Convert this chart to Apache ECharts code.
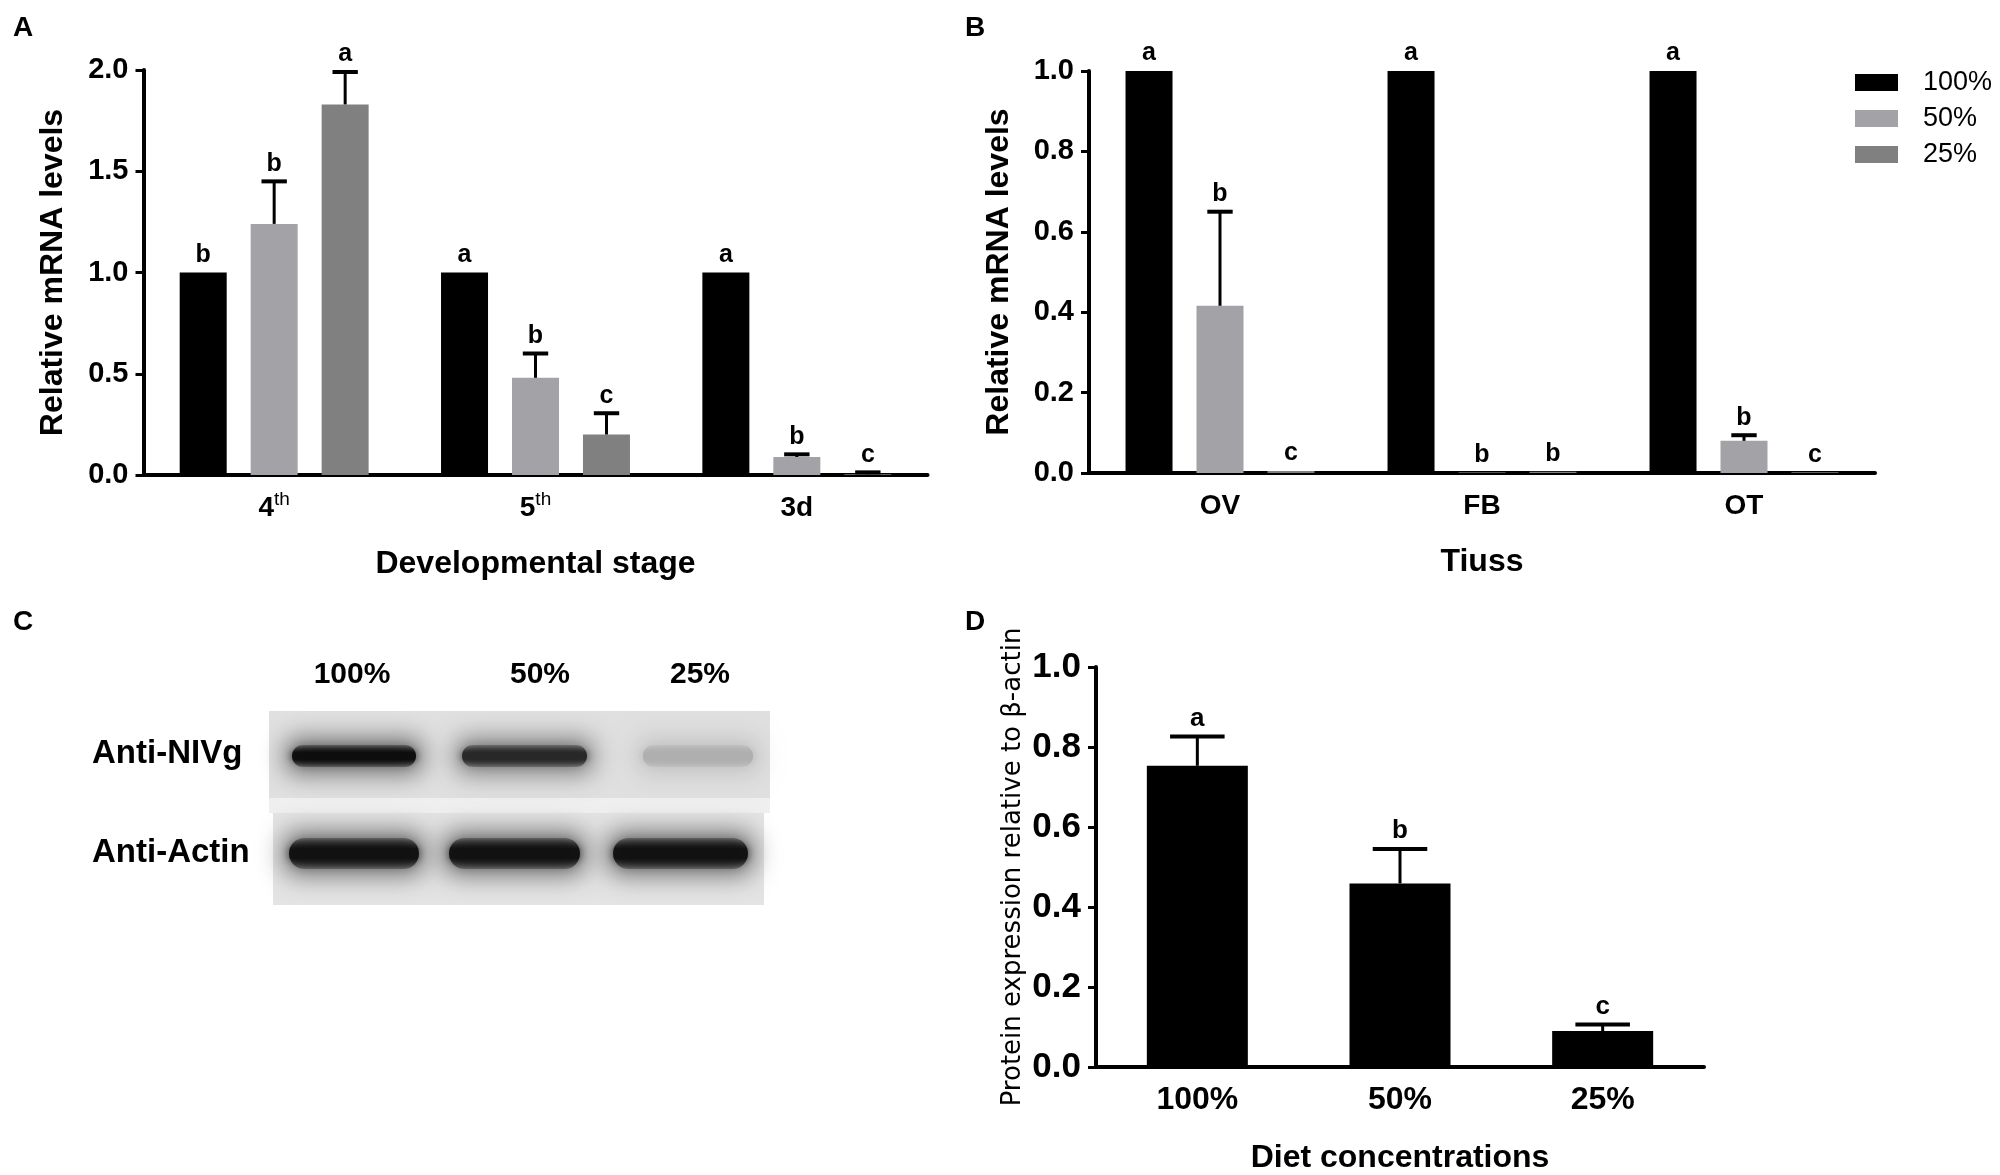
<!DOCTYPE html>
<html>
<head>
<meta charset="utf-8">
<script src="https://cdn.jsdelivr.net/npm/echarts@6/dist/echarts.min.js"></script>
<style>
  html, body { margin: 0; padding: 0; background: #fff; }
  #main { width: 2000px; height: 1175px; }
</style>
</head>
<body>
<div id="main"></div>
<script>
// ---- data ----
var groupNames = ['100%', '50%', '25%'];
var barColors = ['#000000', '#a3a3a7', '#808080'];

// A: developmental stage
var stageCats = ['4th', '5th', '3d'];
var stageFull = [1.0, 1.0, 1.0];
var stageHalf = [1.24, 0.48, 0.089];
var stageQuarter = [1.83, 0.20, 0.004];
var stageFullErr = [0, 0, 0];
var stageHalfErr = [0.21, 0.12, 0.013];
var stageQuarterErr = [0.16, 0.105, 0.009];
var stageFullSig = ['b', 'a', 'a'];
var stageHalfSig = ['b', 'b', 'b'];
var stageQuarterSig = ['a', 'c', 'c'];

// B: tissue
var tissueCats = ['OV', 'FB', 'OT'];
var tissueFull = [1.0, 1.0, 1.0];
var tissueHalf = [0.416, 0.001, 0.080];
var tissueQuarter = [0.005, 0.003, 0.002];
var tissueFullErr = [0, 0, 0];
var tissueHalfErr = [0.234, 0, 0.014];
var tissueQuarterErr = [0, 0, 0];
var tissueFullSig = ['a', 'a', 'a'];
var tissueHalfSig = ['b', 'b', 'b'];
var tissueQuarterSig = ['c', 'b', 'c'];

// D: protein expression
var dietCats = ['100%', '50%', '25%'];
var dietValues = [0.753, 0.459, 0.090];
var dietErr = [0.073, 0.086, 0.016];
var dietSig = ['a', 'b', 'c'];

// C: western blot band darkness (0..1) per lane
var blotLanes = ['100%', '50%', '25%'];
var nivgBand = [0.97, 0.85, 0.25];
var actinBand = [0.95, 0.95, 0.95];

var F = 'Liberation Sans, Arial, sans-serif';

var myChart = echarts.init(document.getElementById('main'));

function valueAxis(grid, max, interval, name, fs, nameFont, gap) {
    return {
        type: 'value', gridIndex: grid, min: 0, max: max, interval: interval,
        name: name, nameLocation: 'middle', nameGap: gap,
        nameTextStyle: nameFont,
        axisLine: { show: true, lineStyle: { color: '#000', width: 4 } },
        axisTick: { show: true, length: 8, lineStyle: { color: '#000', width: 3 } },
        axisLabel: { color: '#000', fontFamily: F, fontWeight: 'bold', fontSize: fs, margin: 15,
            formatter: function (v) { return v.toFixed(1); } },
        splitLine: { show: false }
    };
}

function catAxis(grid, cats, name, fs, nameGap) {
    return {
        type: 'category', gridIndex: grid, data: cats,
        name: name, nameLocation: 'middle', nameGap: nameGap,
        nameTextStyle: { color: '#000', fontFamily: F, fontWeight: 'bold', fontSize: 32 },
        axisLine: { lineStyle: { color: '#000', width: 4 } },
        axisTick: { alignWithLabel: true, length: 8, lineStyle: { color: '#000', width: 3 } },
        axisLabel: {
            margin: 15,
            formatter: function (v) {
                var m = v.match(/^(\d)(th)$/);
                return m ? '{n|' + m[1] + '}{s|' + m[2] + '}' : '{n|' + v + '}';
            },
            rich: {
                n: { fontFamily: F, fontWeight: 'bold', fontSize: fs, color: '#000', lineHeight: 36 },
                s: { fontFamily: F, fontSize: 19, color: '#000', verticalAlign: 'top', lineHeight: 20 }
            }
        }
    };
}

function barSeries(name, grid, values, color, barW, gap) {
    return {
        name: name, type: 'bar', xAxisIndex: grid, yAxisIndex: grid,
        data: values, barWidth: barW, barGap: gap,
        itemStyle: { color: color },
        emphasis: { disabled: true }
    };
}

// error bar (upper only) plus significance letter, centred on the k-th bar of n
function errSeries(grid, values, errs, sig, k, n, barW, gapPx, fs) {
    return {
        type: 'custom', xAxisIndex: grid, yAxisIndex: grid, z: 5,
        data: values.map(function (v, i) { return [i, v, errs[i]]; }),
        renderItem: function (params, api) {
            var v = api.value(1), e = api.value(2);
            var base = api.coord([api.value(0), v]);
            var top = api.coord([api.value(0), v + e]);
            var x = base[0] + (k - (n - 1) / 2) * (barW + gapPx);
            var kids = [];
            if (e > 0) {
                kids.push({ type: 'line', shape: { x1: x, y1: base[1], x2: x, y2: top[1] },
                    style: { stroke: '#000', lineWidth: 3 } });
                kids.push({ type: 'line', shape: { x1: x - barW * 0.27, y1: top[1], x2: x + barW * 0.27, y2: top[1] },
                    style: { stroke: '#000', lineWidth: 4 } });
            }
            kids.push({ type: 'text', x: x, y: top[1] - 5,
                style: { text: sig[params.dataIndex], align: 'center', verticalAlign: 'bottom',
                    fontFamily: F, fontWeight: 'bold', fontSize: fs, fill: '#000' } });
            return { type: 'group', children: kids };
        }
    };
}

var titleFont = { color: '#000', fontFamily: F, fontWeight: 'bold', fontSize: 32 };

// western blot drawn as a picture
var blot = [
    { type: 'rect', shape: { x: 269, y: 711, width: 501, height: 88 }, style: { fill: '#e0e0e0' } },
    { type: 'rect', shape: { x: 269, y: 798, width: 501, height: 15 }, style: { fill: '#efefef' } },
    { type: 'rect', shape: { x: 273, y: 813, width: 491, height: 92 }, style: { fill: '#e4e4e4' } }
];
var SHIFT = 3000;
function band(x, y, w, h, d) {
    var g = Math.round(230 - 225 * d);
    var c = 'rgba(' + g + ',' + g + ',' + g + ',';
    // soft halo: shape drawn off-canvas, only its blurred shadow lands on the blot
    blot.push({ type: 'rect', shape: { x: x - 4 - SHIFT, y: y - 6, width: w + 8, height: h + 12, r: h / 2 },
        style: { fill: '#000', shadowBlur: 24, shadowOffsetX: SHIFT, shadowColor: 'rgba(0,0,0,' + (0.5 * d) + ')' } });
    blot.push({ type: 'rect', shape: { x: x + 3, y: y + 1, width: w - 6, height: h - 2, r: (h - 2) / 2 },
        style: {
            fill: new echarts.graphic.LinearGradient(0, 0, 0, 1, [
                { offset: 0, color: c + '0.3)' },
                { offset: 0.35, color: c + '0.97)' },
                { offset: 0.65, color: c + '0.97)' },
                { offset: 1, color: c + '0.3)' }
            ]),
            shadowBlur: 8, shadowColor: c + '0.7)'
        } });
}
var nivgX = [[289, 130], [459, 131], [640, 116]];
var actinX = [[286, 136], [446, 137], [610, 141]];
nivgBand.forEach(function (d, i) { band(nivgX[i][0], 744, nivgX[i][1], 24, d); });
actinBand.forEach(function (d, i) { band(actinX[i][0], 837, actinX[i][1], 33, d); });
var laneCenters = [352, 540, 700];
blotLanes.forEach(function (t, i) {
    blot.push({ type: 'text', x: laneCenters[i], y: 675,
        style: { text: t, align: 'center', verticalAlign: 'middle', fontFamily: F, fontWeight: 'bold', fontSize: 30, fill: '#000' } });
});
blot.push({ type: 'text', x: 92, y: 754, style: { text: 'Anti-NIVg', verticalAlign: 'middle', fontFamily: F, fontWeight: 'bold', fontSize: 33, fill: '#000' } });
blot.push({ type: 'text', x: 92, y: 853, style: { text: 'Anti-Actin', verticalAlign: 'middle', fontFamily: F, fontWeight: 'bold', fontSize: 33, fill: '#000' } });

var panelLetters = [['A', 13, 14], ['B', 965, 14], ['C', 13, 608], ['D', 965, 608]].map(function (p) {
    return { type: 'text', x: p[1], y: p[2],
        style: { text: p[0], fontFamily: F, fontWeight: 'bold', fontSize: 28, fill: '#000' } };
});

var option = {
    backgroundColor: '#fff',
    animation: false,
    grid: [
        { left: 143.5, top: 70, width: 784, height: 405 },
        { left: 1089, top: 71, width: 786, height: 402 },
        { left: 1096, top: 667, width: 608, height: 405 }
    ],
    legend: {
        data: groupNames,
        orient: 'vertical', left: 1850, top: 64,
        itemWidth: 43, itemHeight: 17, itemGap: 9,
        icon: 'rect',
        formatter: function (n) { return '{t|' + n + '}'; },
        textStyle: { rich: { t: { fontFamily: F, fontSize: 27, color: '#000', padding: [0, 0, 0, 20], lineHeight: 28 } } }
    },
    xAxis: [
        catAxis(0, stageCats, 'Developmental stage', 28, 73),
        catAxis(1, tissueCats, 'Tiuss', 28, 73),
        catAxis(2, dietCats, 'Diet concentrations', 32, 75)
    ],
    yAxis: [
        valueAxis(0, 2, 0.5, 'Relative mRNA levels', 29, titleFont, 74),
        valueAxis(1, 1, 0.2, 'Relative mRNA levels', 29, titleFont, 74),
        valueAxis(2, 1, 0.2, 'Protein expression relative to \u03b2-actin', 35,
            { color: '#000', fontFamily: 'DejaVu Sans', fontSize: 26 }, 70)
    ],
    graphic: { elements: panelLetters.concat(blot) },
    series: [
        barSeries('100%', 0, stageFull, barColors[0], 47, '51%'),
        barSeries('50%', 0, stageHalf, barColors[1], 47, '51%'),
        barSeries('25%', 0, stageQuarter, barColors[2], 47, '51%'),
        errSeries(0, stageFull, stageFullErr, stageFullSig, 0, 3, 47, 24, 25),
        errSeries(0, stageHalf, stageHalfErr, stageHalfSig, 1, 3, 47, 24, 25),
        errSeries(0, stageQuarter, stageQuarterErr, stageQuarterSig, 2, 3, 47, 24, 25),

        barSeries('100%', 1, tissueFull, barColors[0], 47, '51%'),
        barSeries('50%', 1, tissueHalf, barColors[1], 47, '51%'),
        barSeries('25%', 1, tissueQuarter, barColors[2], 47, '51%'),
        errSeries(1, tissueFull, tissueFullErr, tissueFullSig, 0, 3, 47, 24, 25),
        errSeries(1, tissueHalf, tissueHalfErr, tissueHalfSig, 1, 3, 47, 24, 25),
        errSeries(1, tissueQuarter, tissueQuarterErr, tissueQuarterSig, 2, 3, 47, 24, 25),

        barSeries('Protein', 2, dietValues, '#000000', 101, '0%'),
        errSeries(2, dietValues, dietErr, dietSig, 0, 1, 101, 0, 26)
    ]
};

myChart.setOption(option);
window.addEventListener('resize', function () {
    myChart.resize();
});
</script>
</body>
</html>
